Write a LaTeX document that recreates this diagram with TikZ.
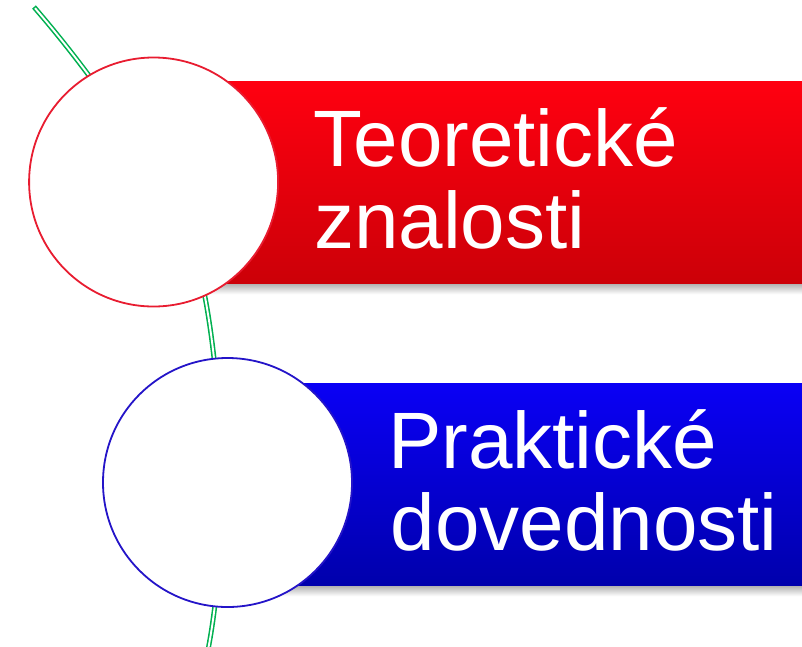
\documentclass[tikz,border=0pt]{standalone}
\usepackage{fontspec}
\setmainfont{Liberation Sans}
\definecolor{redtop}{RGB}{255,0,16}
\definecolor{redbot}{RGB}{204,0,8}
\definecolor{bluetop}{RGB}{10,0,245}
\definecolor{bluebot}{RGB}{0,0,172}
\definecolor{redring}{RGB}{232,28,48}
\definecolor{bluering}{RGB}{36,20,200}
\definecolor{stem}{RGB}{0,176,80}
\tikzset{
  bar/.style={draw=none, rectangle, inner sep=0pt, anchor=north west, minimum height=202pt},
  shadowbar/.style={draw=none, rectangle, inner sep=0pt, anchor=north west, minimum height=12pt, top color=black!35, bottom color=white},
  ring/.style={circle, fill=white, line width=1.8pt, minimum size=249pt, inner sep=0pt},
  label/.style={text=white, font=\fontsize{80}{82}\selectfont, anchor=base west, inner sep=0pt},
}
\begin{document}
\begin{tikzpicture}[x=1pt,y=-1pt]
\useasboundingbox (0,0) rectangle (802,646);
\clip (0,0) rectangle (802,646);
% green stem
\def\stempath{(34,7) .. controls (110,95) and (190,215) .. (205,297) .. controls (215,350) and (221,420) .. (221,480) .. controls (221,560) and (216,612) .. (206,660)}
\draw[stem, line width=5pt] \stempath;
\draw[white, line width=1.9pt, shorten <=1.5pt] \stempath;
% shadows
\node[shadowbar, minimum width=650pt] (s1) at (154,282) {};
\node[shadowbar, minimum width=580pt] (s2) at (227,584) {};
% bars
\node[bar, minimum width=650pt, top color=redtop, bottom color=redbot] (b1) at (154,81) {};
\node[bar, minimum width=580pt, top color=bluetop, bottom color=bluebot] (b2) at (227,383) {};
% circles
\node[ring, draw=redring] (c1) at (153.6,182) {};
\node[ring, draw=bluering] (c2) at (227.5,482.5) {};
% labels
\node[label] (t1) at (313.3,166) {Teoretické};
\node[label] (t2) at (314,248) {znalosti};
\node[label] (t3) at (388,468) {Praktické};
\node[label] (t4) at (390.5,550) {dovednosti};
\end{tikzpicture}
\end{document}
